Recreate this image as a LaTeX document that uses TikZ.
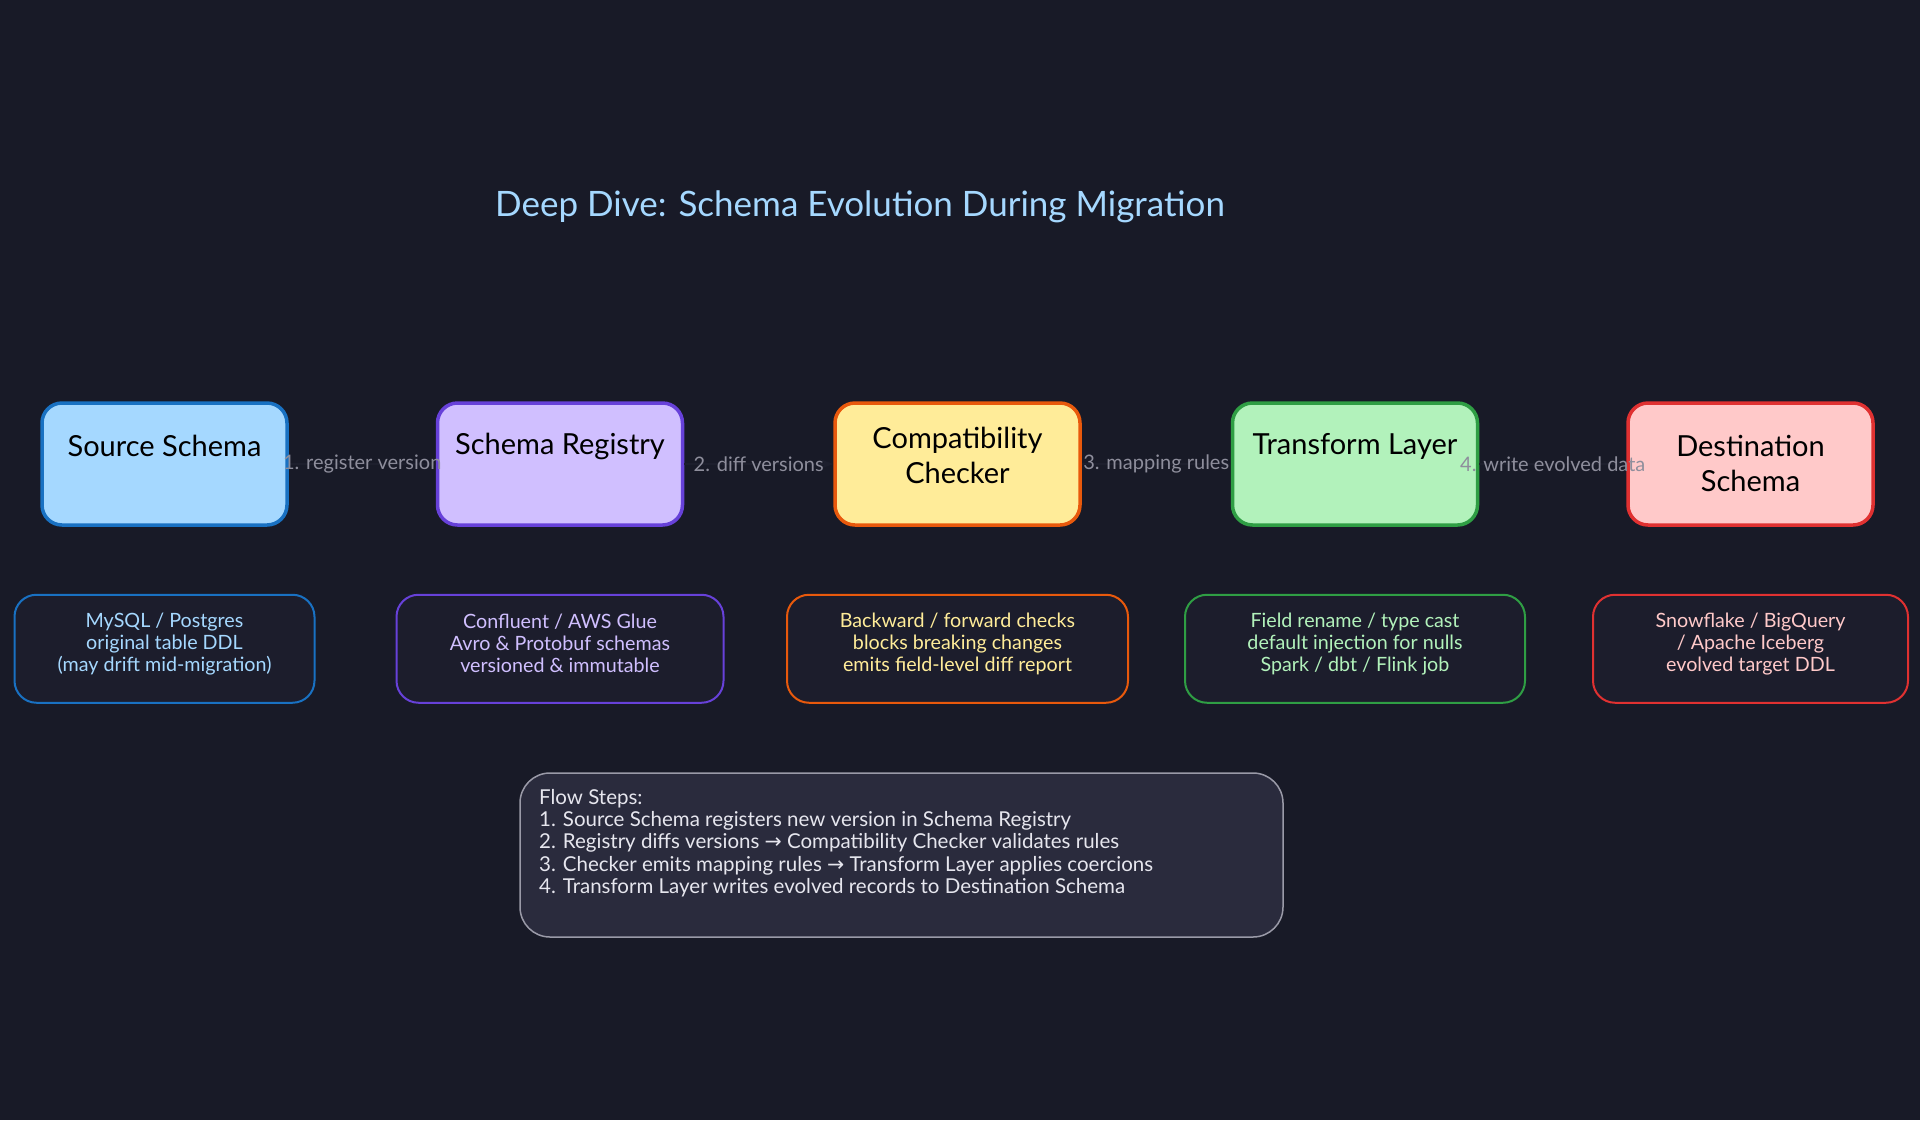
\documentclass[tikz,border=0pt]{standalone}
\usepackage{fontspec}
\setmainfont{Lato}
\newfontfamily\arrowfont{DejaVu Sans}
\usetikzlibrary{positioning,arrows.meta}

\definecolor{bgpage}{HTML}{181A27}
\definecolor{notefill}{HTML}{1C1D2C}
\definecolor{linkink}{HTML}{1D1F2D}
\definecolor{labelgrey}{HTML}{8E8E9C}
\definecolor{titleblue}{HTML}{A5D8FF}
\definecolor{srcfill}{HTML}{A5D8FF}
\definecolor{srcline}{HTML}{1971C2}
\definecolor{regfill}{HTML}{D0BFFF}
\definecolor{regline}{HTML}{6741D9}
\definecolor{chkfill}{HTML}{FFEC99}
\definecolor{chkline}{HTML}{E8590C}
\definecolor{trnfill}{HTML}{B2F2BB}
\definecolor{trnline}{HTML}{2F9E44}
\definecolor{dstfill}{HTML}{FFC9C9}
\definecolor{dstline}{HTML}{E03131}
\definecolor{flowfill}{HTML}{2A2B3D}
\definecolor{flowline}{HTML}{9A9AA8}
\definecolor{flowink}{HTML}{E6E6EE}

\tikzset{
  stage/.style={draw, line width=3.5pt, rounded corners=20pt,
    minimum width=245pt, minimum height=122pt, inner sep=0pt},
  stagetext/.style={font=\fontsize{29}{35}\selectfont, text=black, align=center},
  note/.style={draw, line width=2pt, rounded corners=22pt, fill=notefill,
    minimum height=108pt, inner sep=0pt},
  notetext/.style={font=\fontsize{19.7}{22}\selectfont, align=center},
  steplabel/.style={font=\fontsize{20}{22}\selectfont, text=labelgrey, inner sep=0pt},
  link/.style={draw=linkink, line width=1.5pt, -{Stealth[length=12pt]}},
}

\begin{document}
\begin{tikzpicture}[x=1pt, y=-1pt, node distance=147pt]
\fill[bgpage] (0,0) rectangle (1920,1120);
\useasboundingbox (0,0) rectangle (1920,1120);

% title
\node[font=\fontsize{35}{40}\selectfont, text=titleblue] (title) at (860,207)
  {Deep Dive: Schema Evolution During Migration};

% pipeline stages
\node[stage, fill=srcfill, draw=srcline] (src) at (164.5,464) {};
\node[stage, fill=regfill, draw=regline, right=of src] (reg) {};
\node[stage, fill=chkfill, draw=chkline, right=149pt of reg] (chk) {};
\node[stage, fill=trnfill, draw=trnline, right=149pt of chk] (trn) {};
\node[stage, fill=dstfill, draw=dstline, right=of trn] (dst) {};

\node[stagetext] (srcT) at ([yshift=18pt]src.center) {Source Schema};
\node[stagetext] (regT) at ([yshift=18pt]reg.center) {Schema Registry};
\node[stagetext] (chkT) at ([yshift=9pt]chk.center) {Compatibility\\Checker};
\node[stagetext] (trnT) at ([yshift=18pt]trn.center) {Transform Layer};
\node[stagetext] (dstT) at ([yshift=1pt]dst.center) {Destination\\Schema};

% connectors
\draw[link] (src) -- node[steplabel] (l1) {1. register version} (reg);
\draw[link] (reg) -- node[steplabel] (l2) {2. diff versions} (chk);
\draw[link] (chk) -- node[steplabel] (l3) {3. mapping rules} (trn);
\draw[link] (trn) -- node[steplabel] (l4) {4. write evolved data} (dst);

% notes under each stage
\node[note, draw=srcline, minimum width=300pt, below=67pt of src] (srcN) {};
\node[note, draw=regline, minimum width=327pt, below=67pt of reg] (regN) {};
\node[note, draw=chkline, minimum width=341pt, below=67pt of chk] (chkN) {};
\node[note, draw=trnline, minimum width=340pt, below=67pt of trn] (trnN) {};
\node[note, draw=dstline, minimum width=315pt, below=67pt of dst] (dstN) {};

\node[notetext, text=srcfill] at ([yshift=5pt]srcN.center)
  {MySQL / Postgres\\original table DDL\\(may drift mid-migration)};
\node[notetext, text=regfill] at ([yshift=5pt]regN.center)
  {Confluent / AWS Glue\\Avro \& Protobuf schemas\\versioned \& immutable};
\node[notetext, text=chkfill] at ([yshift=5pt]chkN.center)
  {Backward / forward checks\\blocks breaking changes\\emits field-level diff report};
\node[notetext, text=trnfill] at ([yshift=5pt]trnN.center)
  {Field rename / type cast\\default injection for nulls\\Spark / dbt / Flink job};
\node[notetext, text=dstfill] at ([yshift=5pt]dstN.center)
  {Snowflake / BigQuery\\/ Apache Iceberg\\evolved target DDL};

% flow steps
\node[draw=flowline, fill=flowfill, line width=1.5pt, rounded corners=30pt,
  minimum width=763pt, minimum height=164pt] (flow) at (901.5,855) {};
\node[font=\fontsize{20.5}{22.3}\selectfont, text=flowink, align=left, anchor=west,
  inner sep=0pt] (flowT) at (539,843)
  {Flow Steps:\\
   1. Source Schema registers new version in Schema Registry\\
   2. Registry diffs versions {\arrowfont →} Compatibility Checker validates rules\\
   3. Checker emits mapping rules {\arrowfont →} Transform Layer applies coercions\\
   4. Transform Layer writes evolved records to Destination Schema};
\end{tikzpicture}
\end{document}
